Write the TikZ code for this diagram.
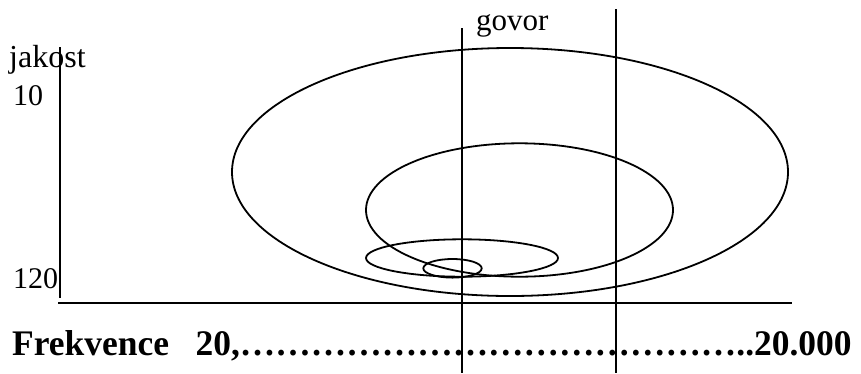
\documentclass[tikz,border=0pt]{standalone}
\usepackage{fontspec}
\setmainfont{Liberation Serif}
\usetikzlibrary{shapes.geometric}
\begin{document}
\begin{tikzpicture}[x=1pt,y=-1pt,
  ln/.style={line width=1.8pt},
  ell/.style={ellipse, draw, line width=1.8pt, inner sep=0pt, outer sep=0pt},
  lbl/.style={inner sep=0pt, anchor=base west},
  fsz/.style={font=\fontsize{#1}{#1}\selectfont}]
\useasboundingbox (0,0) rectangle (861,373);
% ellipses
\node[ell, minimum width=556pt, minimum height=248pt] (big) at (510,172) {};
\node[ell, minimum width=307pt, minimum height=133.4pt] (mid) at (519.5,210) {};
\node[ell, minimum width=192pt, minimum height=37.4pt] (flat) at (462,258) {};
\node[ell, minimum width=58.4pt, minimum height=18.6pt] (small) at (452.5,268.3) {};
% axes
\coordinate (ytop) at (60,47);
\coordinate (ybot) at (60,298);
\coordinate (xl) at (58,303);
\coordinate (xr) at (792,303);
\draw[ln] (ytop) -- (ybot);
\draw[ln] (xl) -- (xr);
% speech band lines
\coordinate (g1t) at (462,28);
\coordinate (g1b) at (462,373);
\coordinate (g2t) at (616,9);
\coordinate (g2b) at (616,373);
\draw[ln] (g1t) -- (g1b);
\draw[ln] (g2t) -- (g2b);
% labels
\node[lbl, fsz=31] (govor) at (476,30) {govor};
\node[lbl, fsz=32] (jakost) at (9,67) {jakost};
\node[lbl, fsz=30] (ten) at (13,105) {10};
\node[lbl, fsz=30] (onetwenty) at (13,288) {120};
\node[lbl, font=\fontsize{36}{36}\selectfont\bfseries, xscale=0.985, transform shape] (freq) at (12,355)
  {Frekvence\ \ \ 20,……………………………………..20.000};
\end{tikzpicture}
\end{document}
